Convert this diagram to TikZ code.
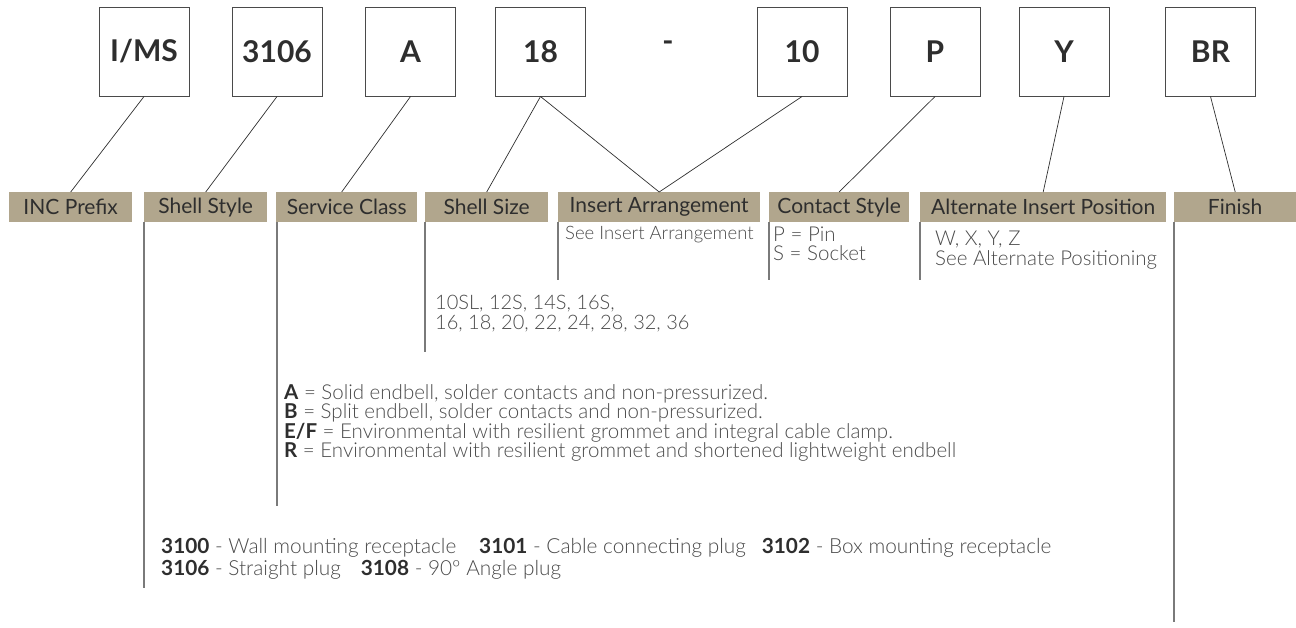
\documentclass[tikz,border=0pt]{standalone}
\usepackage{fontspec}
\setmainfont{Lato}
\newfontfamily\lightfont{Lato Light}
\usetikzlibrary{positioning}
\definecolor{tan}{HTML}{B1A68D}
\definecolor{ink}{HTML}{2E2E2E}
\definecolor{soft}{HTML}{4A4A4A}
\definecolor{rule}{HTML}{7A7A7A}
\newcommand\key[1]{{\normalfont\bfseries\color{ink}#1}}

\begin{document}
\begin{tikzpicture}[
			x=1pt,y=-1pt,
			codebox/.style={draw=soft,line width=1pt,minimum width=90pt,minimum height=89pt,
					inner sep=0pt,text=ink,font=\fontsize{30}{30}\selectfont\bfseries},
			tag/.style={fill=tan,anchor=north west,minimum height=30pt,inner sep=0pt,
					text=ink,font=\fontsize{21}{21}\selectfont},
			note/.style={anchor=west,inner sep=0pt,align=left,text=soft,
					font=\lightfont\fontsize{20.5}{19.5}\selectfont},
			link/.style={draw=ink,line width=0.7pt},
			drop/.style={draw=rule,line width=1.3pt}
		]
		\useasboundingbox (0,0) rectangle (1296,627);

		% code boxes
		\node[codebox] (ims) at (144,51.5) {I/MS};
		\node[codebox] (style) at (277,51.5) {3106};
		\node[codebox] (class) at (410.5,51.5) {A};
		\node[codebox] (size) at (540.5,51.5) {18};
		\node[text=ink,font=\fontsize{30}{30}\selectfont\bfseries] (dash) at (668,46) {-};
		\node[codebox] (insert) at (802,51.5) {10};
		\node[codebox] (contact) at (935,51.5) {P};
		\node[codebox] (alt) at (1064,51.5) {Y};
		\node[codebox] (finish) at (1210.5,51.5) {BR};

		% tags
		\node[tag,minimum width=123pt] (tinc) at (9,192) {INC Prefix};
		\node[tag,minimum width=123pt] (tstyle) at (144,192) {Shell Style};
		\node[tag,minimum width=141pt] (tclass) at (276,192) {Service Class};
		\node[tag,minimum width=123pt] (tsize) at (425,192) {Shell Size};
		\node[tag,minimum width=202pt] (tinsert) at (558,192) {Insert Arrangement};
		\node[tag,minimum width=140pt] (tcontact) at (769,192) {Contact Style};
		\node[tag,minimum width=246pt] (talt) at (920,192) {Alternate Insert Position};
		\node[tag,minimum width=122pt] (tfinish) at (1174,192) {Finish};

		% links
		\draw[link] (ims.south) -- (tinc.north);
		\draw[link] (style.south) -- (tstyle.north);
		\draw[link] (class.south) -- ([xshift=-5pt]tclass.north);
		\draw[link] (size.south) -- (tsize.north);
		\draw[link] (size.south) -- (tinsert.north);
		\draw[link] (insert.south) -- (tinsert.north);
		\draw[link] (contact.south) -- (tcontact.north);
		\draw[link] (alt.south) -- (talt.north);
		\draw[link] (finish.south) -- (tfinish.north);

		% drops
		\draw[drop] (tstyle.south west) -- ++(0,366);
		\draw[drop] ([xshift=1pt]tclass.south west) -- ++(0,284);
		\draw[drop] (tsize.south west) -- ++(0,130);
		\draw[drop] (tinsert.south west) -- ++(0,58);
		\draw[drop] (tcontact.south west) -- ++(0,58);
		\draw[drop] (talt.south west) -- ++(0,58);
		\draw[drop] (tfinish.south west) -- ++(0,400);

		% notes
		\node[note,font=\lightfont\fontsize{18.5}{19}\selectfont] (ninsert) at (565,235) {See Insert Arrangement};
		\node[note] (ncontact) at (773,244) {P = Pin\\S = Socket};
		\node[note] (nalt) at (935,250) {W, X, Y, Z\\See Alternate Positioning};
		\node[note,font=\lightfont\fontsize{20}{20}\selectfont] (nsize) at (435,314)
			{10SL, 12S, 14S, 16S,\\16, 18, 20, 22, 24, 28, 32, 36};
		\node[note] (nclass) at (284,423)
			{\key{A} = Solid endbell, solder contacts and non-pressurized.\\
				\key{B} = Split endbell, solder contacts and non-pressurized.\\
				\key{E/F} = Environmental with resilient grommet and integral cable clamp.\\
				\key{R} = Environmental with resilient grommet and shortened lightweight endbell};
		\node[note,font=\lightfont\fontsize{20.8}{22}\selectfont] (nstyle) at (161,559)
			{\key{3100} - Wall mounting receptacle\hspace{23pt}\key{3101} - Cable connecting plug\hspace{16pt}\key{3102} - Box mounting receptacle\\
				\key{3106} - Straight plug\hspace{20pt}\key{3108} - 90º Angle plug};
	\end{tikzpicture}
\end{document}
